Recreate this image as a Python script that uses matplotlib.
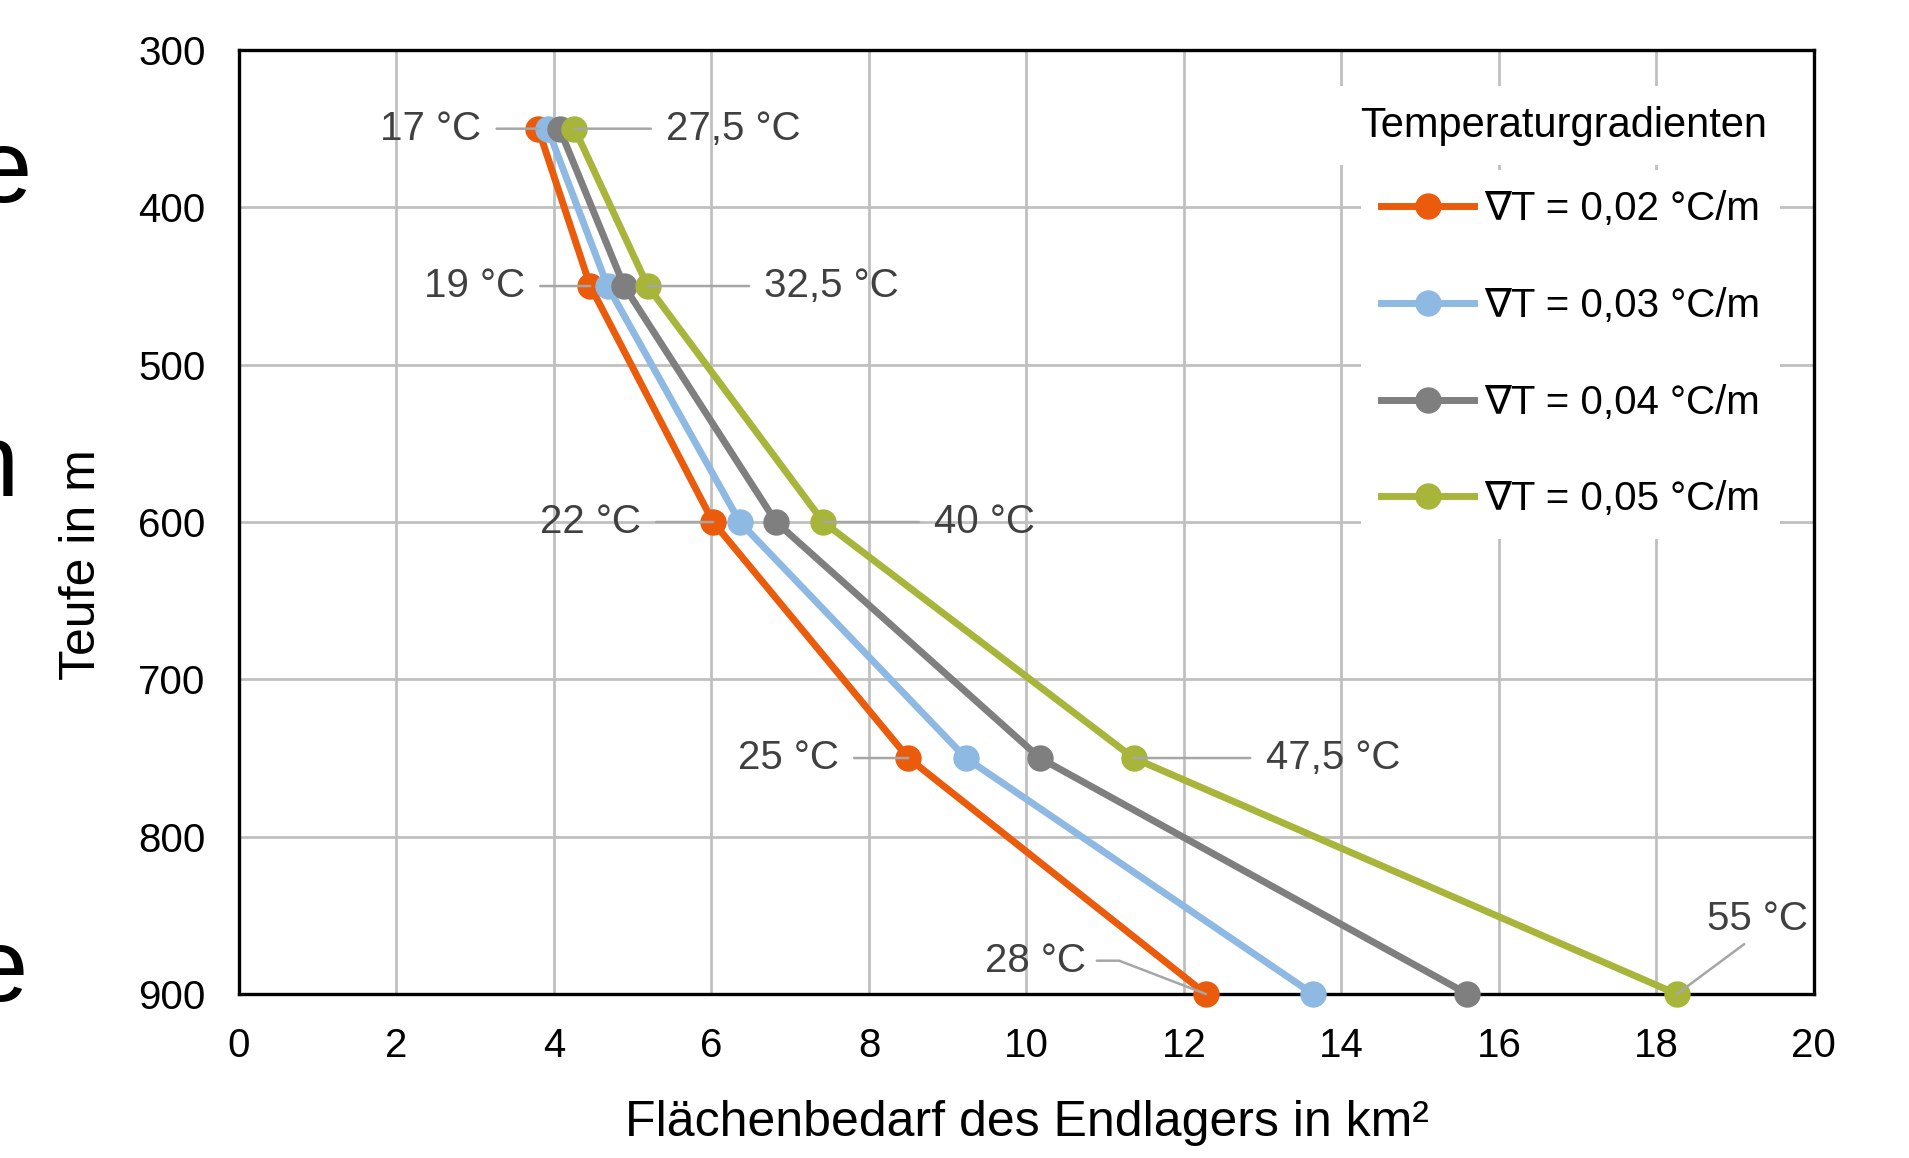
import matplotlib
matplotlib.use("Agg")
import matplotlib.pyplot as plt

plt.rcParams['font.family'] = ['Liberation Sans', 'DejaVu Sans']

# Daten
teufe = [350, 450, 600, 750, 900]
flaeche_002 = [3.80, 4.46, 6.02, 8.50, 12.28]
flaeche_003 = [3.92, 4.68, 6.36, 9.23, 13.64]
flaeche_004 = [4.07, 4.89, 6.82, 10.17, 15.60]
flaeche_005 = [4.26, 5.19, 7.42, 11.36, 18.26]
labels = ["∇T = 0,02 °C/m", "∇T = 0,03 °C/m", "∇T = 0,04 °C/m", "∇T = 0,05 °C/m"]
temp_002 = ["17 °C", "19 °C", "22 °C", "25 °C", "28 °C"]
temp_005 = ["27,5 °C", "32,5 °C", "40 °C", "47,5 °C", "55 °C"]

colors = ['#EA5B0C', '#8EB9E3', '#7F7F7F', '#A7B53B']
serien = [flaeche_002, flaeche_003, flaeche_004, flaeche_005]

fig = plt.figure(figsize=(19.09, 11.58), dpi=100)
ax = fig.add_axes([0.1252, 0.1416, 0.825, 0.8152])

for werte, c, lab in zip(serien, colors, labels):
    ax.plot(werte, teufe, color=c, lw=5, marker='o', markersize=18,
            label=lab, zorder=3, clip_on=False, solid_joinstyle='round')

ax.set_xlim(0, 20)
ax.set_ylim(900, 300)
ax.set_xticks(range(0, 21, 2))
ax.set_yticks(range(300, 901, 100))
ax.grid(True, color='#C0C0C0', lw=2)
ax.set_axisbelow(True)
ax.tick_params(length=0, labelsize=29, pad=24, colors='black')
for s in ax.spines.values():
    s.set_linewidth(2.4)
    s.set_color('black')

ax.set_xlabel("Flächenbedarf des Endlagers in km²", fontsize=36)
ax.set_ylabel("Teufe in m", fontsize=36)
ax.xaxis.set_label_coords(0.5, -0.112)
ax.yaxis.set_label_coords(-0.085, 0.455)

# Temperaturbeschriftungen
leader = dict(arrowstyle='-', color='#A6A6A6', lw=1.8, shrinkA=9, shrinkB=0)
links_off = [41, 47, 52, 50]
rechts_off = [66, 84, 80, 95]
for i in range(4):
    ax.annotate(temp_002[i], xy=(flaeche_002[i], teufe[i]), xytext=(-links_off[i], 0),
                textcoords='offset points', ha='right', va='center', fontsize=29,
                color='#404040', arrowprops=leader, zorder=5)
    ax.annotate(temp_005[i], xy=(flaeche_005[i], teufe[i]), xytext=(rechts_off[i], 0),
                textcoords='offset points', ha='left', va='center', fontsize=29,
                color='#404040', arrowprops=leader, zorder=5)

ax.annotate(temp_002[4], xy=(flaeche_002[4], teufe[4]), xytext=(-123, 24),
            textcoords='offset points', ha='center', va='center', fontsize=29,
            color='#404040', zorder=5,
            arrowprops=dict(arrowstyle='-', color='#A6A6A6', lw=1.8, shrinkA=6, shrinkB=0,
                            connectionstyle="angle,angleA=0,angleB=-21,rad=0"))
ax.annotate(temp_005[4], xy=(flaeche_005[4], teufe[4]), xytext=(58, 54),
            textcoords='offset points', ha='center', va='center', fontsize=29,
            color='#404040', zorder=5,
            arrowprops=dict(arrowstyle='-', color='#A6A6A6', lw=1.8, shrinkA=4, shrinkB=0,
                            relpos=(0.45, 0)))

# Legende: Titel als eigenes Textfeld, Einträge darunter
ax.text(0.841, 0.920, "Temperaturgradienten", transform=ax.transAxes, fontsize=30,
        ha='center', va='center', zorder=6,
        bbox=dict(facecolor='white', edgecolor='none', pad=14))
leg = ax.legend(loc='upper left', bbox_to_anchor=(0.7125, 0.873), fontsize=29,
                frameon=True, facecolor='white', edgecolor='none', framealpha=1,
                fancybox=False, handlelength=2.3, handletextpad=0.25,
                labelspacing=1.46, borderpad=0.5, borderaxespad=0)
leg.set_zorder(6)

# angeschnittene Buchstaben am linken Rand
fig.text(32 / 1909, 1 - 176 / 1158, "e", fontsize=74, ha='right', va='center')
fig.text(18 / 1909, 1 - 470 / 1158, "n", fontsize=74, ha='right', va='center')
fig.text(28 / 1909, 1 - 975 / 1158, "e", fontsize=74, ha='right', va='center')

fig.savefig("out.png", dpi=100)
